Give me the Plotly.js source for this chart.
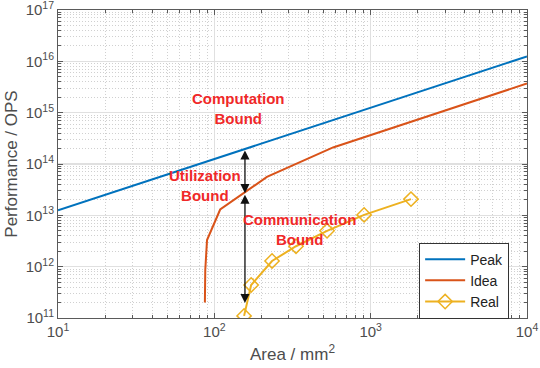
<!DOCTYPE html>
<html>
<head>
<meta charset="utf-8">
<script src="https://cdn.plot.ly/plotly-3.0.1.min.js"></script>
<style>
  html, body { margin: 0; padding: 0; background: #fff; }
  #chart { width: 540px; height: 368px; }
</style>
</head>
<body>
<div id="chart"></div>
<script>
// data (area in mm^2, performance in OPS)
var peakArea = [10, 10000];
var peakPerf = [1.25e13, 1.25e16];

var ideaArea = [87, 87.5, 89.8, 109, 217, 575, 10000];
var ideaPerf = [2e11, 8.6e11, 3.3e12, 1.3e13, 5.6e13, 2.1e14, 3.7e15];

var realArea = [155, 172, 234, 333, 526, 908, 1811];
var realPerf = [1.1e11, 4.4e11, 1.29e12, 2.5e12, 5.0e12, 1.02e13, 2.07e13];

// the bound arrows: area where they stand and the three levels
var boundArea = 157;
var boundLevels = [1.96e14, 2.7e13, 1.95e11];

// where the red bound labels sit
var boundNames = ["Computation<br>Bound", "Utilization<br>Bound", "Communication<br>Bound"];
var boundNameArea = [142, 87, 348];
var boundNamePerf = [1.21e15, 3.74e13, 5.4e12];

var tickPow = [1, 2, 3, 4];
var yTickPow = [11, 12, 13, 14, 15, 16, 17];

var grey = "#4d4d4d";
var red = "#f02828";
var fontFam = "Liberation Sans, Arial, sans-serif";

function lg(v) { return Math.log10(v); }

var traces = [
  { x: peakArea, y: peakPerf, name: "Peak", mode: "lines", line: { color: "#0072BD", width: 2 } },
  { x: ideaArea, y: ideaPerf, name: "Idea", mode: "lines", line: { color: "#D95319", width: 2 } },
  { x: realArea, y: realPerf, name: "Real", mode: "lines+markers",
    line: { color: "#EDB120", width: 2 },
    marker: { symbol: "diamond-open", size: 11, color: "#EDB120", line: { width: 1.5 } } }
];

// double headed arrows between the bounds
function arrow(top, bottom) {
  return {
    x: lg(boundArea), y: lg(bottom), ax: lg(boundArea), ay: lg(top),
    xref: "x", yref: "y", axref: "x", ayref: "y",
    text: "", showarrow: true, arrowhead: 2, startarrowhead: 2, arrowside: "end+start",
    arrowsize: 1.4, arrowwidth: 1.3, arrowcolor: "#111"
  };
}

var annots = [
  arrow(boundLevels[0], boundLevels[1]),
  arrow(boundLevels[1], boundLevels[2])
];
for (var i = 0; i < boundNames.length; i++) {
  annots.push({
    x: lg(boundNameArea[i]), y: lg(boundNamePerf[i]), xref: "x", yref: "y",
    text: boundNames[i], showarrow: false, align: "center",
    font: { family: fontFam, size: 15, color: red, weight: "bold" }
  });
}

var axisBase = {
  type: "log",
  showline: true, linecolor: "#5a5a5a", linewidth: 1, mirror: "ticks",
  ticks: "inside", ticklen: 5, tickcolor: "#5a5a5a",
  showgrid: true, gridcolor: "#e0e0e0", gridwidth: 1.3,
  zeroline: false,
  ticklabeloverflow: "allow",
  tickfont: { family: fontFam, size: 15, color: grey },
  minor: { dtick: "D1", ticks: "inside", ticklen: 3, tickcolor: "#5a5a5a",
           showgrid: true, gridcolor: "#d0d0d0", griddash: "1px,2px", gridwidth: 1 }
};

var xaxis = Object.assign({}, axisBase, {
  range: [1, 4],
  tickmode: "array",
  tickvals: tickPow.map(function(p) { return Math.pow(10, p); }),
  ticktext: tickPow.map(function(p) { return "10<sup>" + p + "</sup>"; }),
  title: { text: "Area / mm<sup>2</sup>", standoff: 9,
           font: { family: fontFam, size: 17, color: grey } }
});

var yaxis = Object.assign({}, axisBase, {
  range: [11, 17],
  tickmode: "array",
  tickvals: yTickPow.map(function(p) { return Math.pow(10, p); }),
  ticktext: yTickPow.map(function(p) { return "10<sup>" + p + "</sup>"; }),
  title: { text: "Performance / OPS", standoff: 3,
           font: { family: fontFam, size: 17, color: grey } }
});

var layout = {
  width: 540, height: 368,
  margin: { l: 58, r: 13, t: 10, b: 50 },
  paper_bgcolor: "#fff", plot_bgcolor: "#fff",
  xaxis: xaxis, yaxis: yaxis,
  showlegend: true,
  legend: {
    x: 0.77, y: 0.245, xanchor: "left", yanchor: "top",
    bgcolor: "#fff", bordercolor: "#333", borderwidth: 1,
    font: { family: fontFam, size: 14, color: "#222" },
    itemwidth: 40, tracegroupgap: 0
  },
  annotations: annots
};

Plotly.newPlot("chart", traces, layout, { displayModeBar: false, staticPlot: true });
</script>
</body>
</html>
